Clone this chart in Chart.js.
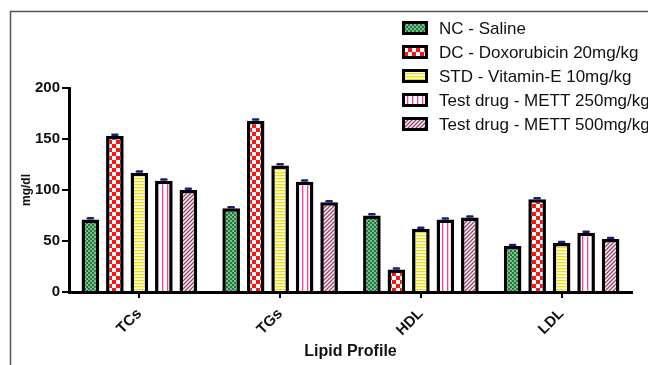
<!DOCTYPE html>
<html>
<head>
<meta charset="utf-8">
<script src="https://cdn.jsdelivr.net/npm/chart.js@4.4.0/dist/chart.umd.min.js"></script>
<style>
html,body{margin:0;padding:0;background:#fff;}
#wrap{width:648px;height:365px;position:relative;}
</style>
</head>
<body>
<div id="wrap"><canvas id="c" width="648" height="365"></canvas></div>
<script>
const categories = ["TCs", "TGs", "HDL", "LDL"];
const seriesLabels = ["NC - Saline", "DC - Doxorubicin 20mg/kg", "STD - Vitamin-E 10mg/kg", "Test drug - METT 250mg/kg", "Test drug - METT 500mg/kg"];
const ncSaline = [71, 82, 75, 45];
const dcDoxorubicin = [153, 168, 22, 91];
const stdVitaminE = [117, 124, 62, 48];
const mett250 = [109, 108, 71, 58];
const mett500 = [100, 88, 73, 52];
const errNC = [1.2, 1.2, 1.2, 1.0];
const errDC = [1.2, 1.2, 1.0, 1.0];
const errSTD = [1.2, 1.2, 1.0, 1.0];
const err250 = [1.2, 1.2, 1.0, 1.0];
const err500 = [1.2, 1.0, 1.0, 1.0];
const yTicks = [0, 50, 100, 150, 200];

function mk(w, h, draw) {
  const c = document.createElement('canvas');
  c.width = w; c.height = h;
  const x = c.getContext('2d');
  x.fillStyle = '#fff'; x.fillRect(0, 0, w, h);
  draw(x);
  return x.createPattern(c, 'repeat');
}
const patGreen = mk(4, 4, x => { x.fillStyle = '#1d7a3a'; x.fillRect(0,0,2,2); x.fillRect(2,2,2,2); x.fillStyle='#7fbf8f'; x.fillRect(2,0,2,2); x.fillRect(0,2,2,2); });
const patRed = mk(8, 8, x => { x.fillStyle = '#ff1414'; x.fillRect(0,0,4,4); x.fillRect(4,4,4,4); });
const patYellow = mk(4, 3, x => { x.fillStyle = '#f0e000'; x.fillRect(0,1,4,1.4); });
const patPink = mk(5, 5, x => { x.fillStyle = '#ff3d9a'; x.fillRect(2,0,1.3,5); });
const patPurple = mk(4, 4, x => { x.strokeStyle = '#a23a6c'; x.lineWidth = 1.3; x.beginPath(); x.moveTo(-1,5); x.lineTo(5,-1); x.moveTo(-1,1); x.lineTo(1,-1); x.moveTo(3,5); x.lineTo(5,3); x.stroke(); });
const patterns = [patGreen, patRed, patYellow, patPink, patPurple];
const seriesData = [ncSaline, dcDoxorubicin, stdVitaminE, mett250, mett500];
const seriesErr = [errNC, errDC, errSTD, err250, err500];

const frame = {
  id: 'frame',
  beforeDraw(chart) {
    const c = chart.ctx;
    c.save();
    c.strokeStyle = '#555'; c.lineWidth = 1.5;
    c.beginPath(); c.moveTo(10.5, 365); c.lineTo(10.5, 11.5); c.lineTo(648, 11.5); c.stroke();
    c.restore();
  }
};
const errBars = {
  id: 'errBars',
  afterDatasetsDraw(chart) {
    const c = chart.ctx; const y = chart.scales.y;
    c.save();
    c.strokeStyle = '#1c1c7a'; c.lineWidth = 2.5; c.lineCap = 'round';
    chart.data.datasets.forEach((ds, i) => {
      const meta = chart.getDatasetMeta(i);
      meta.data.forEach((bar, j) => {
        const v = ds.data[j], e = seriesErr[i][j];
        const y1 = y.getPixelForValue(v + e);
        c.beginPath(); c.moveTo(bar.x - 2.5, y1); c.lineTo(bar.x + 2.5, y1); c.stroke();
      });
    });
    c.restore();
  }
};
const legendP = {
  id: 'legendP',
  afterDraw(chart) {
    const c = chart.ctx;
    c.save();
    c.font = '17px "Liberation Sans", Arial, sans-serif';
    c.textBaseline = 'middle';
    seriesLabels.forEach((lab, i) => {
      const yy = 28 + i * 24;
      c.fillStyle = patterns[i];
      c.fillRect(403, yy - 6, 24, 12);
      c.strokeStyle = '#000'; c.lineWidth = 3;
      c.strokeRect(403.5, yy - 5.5, 23, 11);
      c.fillStyle = '#111';
      c.fillText(lab, 439, yy + 1);
    });
    c.restore();
  }
};

new Chart(document.getElementById('c'), {
  type: 'bar',
  data: {
    labels: categories,
    datasets: seriesLabels.map((l, i) => ({
      label: l,
      data: seriesData[i],
      backgroundColor: patterns[i],
      borderColor: '#000',
      borderWidth: 3.5,
      borderSkipped: 'bottom',
      categoryPercentage: 0.87,
      barPercentage: 0.72
    }))
  },
  options: {
    responsive: false,
    animation: false,
    events: [],
    layout: { padding: { left: 10, right: 16, top: 88, bottom: 0 } },
    plugins: { legend: { display: false }, tooltip: { enabled: false } },
    scales: {
      x: {
        afterFit(s) { s.height = 73; },
        grid: { display: true, drawOnChartArea: false, drawTicks: true, tickLength: 6, offset: false, color: '#000', lineWidth: 2 },
        border: { display: true, color: '#000', width: 3 },
        ticks: { color: '#111', maxRotation: 45, minRotation: 45, padding: 7,
          font: { family: '"Liberation Sans", Arial, sans-serif', size: 15, weight: 'bold' } },
        title: { display: true, text: 'Lipid Profile', color: '#111', padding: { top: 0, bottom: 4 },
          font: { family: '"Liberation Sans", Arial, sans-serif', size: 16, weight: 'bold' } }
      },
      y: {
        min: 0, max: 200,
        afterFit(s) { s.width = 59; },
        afterBuildTicks(s) { s.ticks = yTicks.map(v => ({ value: v })); },
        grid: { display: true, drawOnChartArea: false, drawTicks: true, tickLength: 7, color: '#000', lineWidth: 2 },
        border: { display: true, color: '#000', width: 3 },
        ticks: { color: '#111', padding: 2,
          font: { family: '"Liberation Sans", Arial, sans-serif', size: 15, weight: 'bold' } },
        title: { display: true, text: 'mg/dl', color: '#111', padding: { top: 9, bottom: 0 },
          font: { family: '"Liberation Sans", Arial, sans-serif', size: 12, weight: 'bold' } }
      }
    }
  },
  plugins: [frame, errBars, legendP]
});
</script>
</body>
</html>
